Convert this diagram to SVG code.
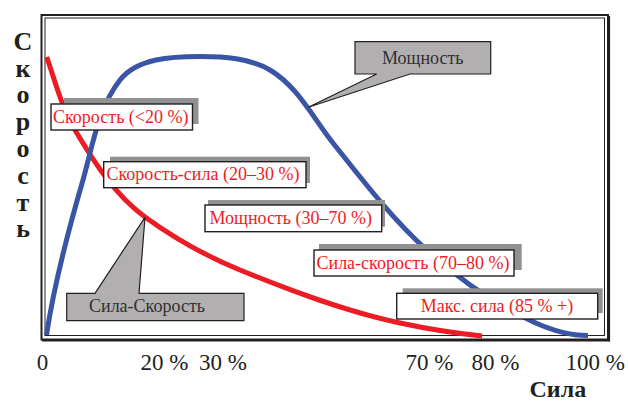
<svg xmlns="http://www.w3.org/2000/svg" width="628" height="401" viewBox="0 0 628 401">
<style>
.frame{fill:none;stroke:#231f20}
.curve{fill:none;stroke-width:5;stroke-linecap:butt}
.red{stroke:#ed1c24}
.blue{stroke:#3a55a5}
.shadow{fill:#919191}
.box{fill:#ffffff;stroke:#231f20;stroke-width:1.4}
.lbl{font-family:"Liberation Serif","Times New Roman",serif;font-size:18px;fill:#ed1c24}
.call{fill:#b1afaf;stroke:#231f20;stroke-width:1.2}
.ctext{font-family:"Liberation Serif","Times New Roman",serif;font-size:18px;fill:#333132}
.axis{font-family:"Liberation Serif","Times New Roman",serif;font-size:23px;fill:#231f20}
.bold{font-family:"Liberation Serif","Times New Roman",serif;font-weight:bold;fill:#231f20}
</style>
<rect width="628" height="401" fill="#ffffff"/>
<g id="frame">
<rect class="frame" x="41.5" y="15" width="566.5" height="324.5" stroke-width="2"/>
<line x1="609.3" y1="16" x2="609.3" y2="341.5" stroke="#231f20" stroke-width="1.6"/>
<line x1="42" y1="340.8" x2="610" y2="340.8" stroke="#231f20" stroke-width="1.6"/>
<rect class="frame" x="45" y="18" width="559.5" height="317.5" stroke-width="1"/>
</g>
<g id="curves">
<path class="curve red" d="M46.7,57 C55.3,81.5 61.7,107.6 75,130 C94,162 114.9,195.1 145,217 C174.4,238.4 206.2,256.2 240,270 C292.3,291.4 345.1,311.2 400,323 C427,328.8 454.7,333.2 482,336"/>
<path class="curve blue" d="M46.5,335 C54.4,282.5 68.7,229 83,180 C92.6,145.9 98,108 120,80 C137.2,58 172.2,56.5 200,56.5 C223.8,56.5 249.5,57.9 270,70 C297.6,86.4 313.1,118 333,143 C362.4,180 391.6,218.2 426.7,250 C458.3,278.6 494.1,303.8 533,321.7 C549.4,329.3 567,335.5 588,335.5"/>
</g>
<g id="callout-power">
<path class="call" d="M355,41.7 H490.7 V74 H410 L308.3,107.3 L376.7,74 H355 Z"/>
<text class="ctext" x="422.8" y="63.5" text-anchor="middle">Мощность</text>
</g>
<g id="callout-force-speed">
<path class="call" d="M66.7,293.3 H95 L145,217.3 L139,293.3 H244 V320.7 H66.7 Z"/>
<text class="ctext" x="89" y="312">Сила-Скорость</text>
</g>
<g id="label-speed">
<rect class="shadow" x="64" y="98" width="134.5" height="26"/>
<rect class="box" x="51" y="104" width="141.5" height="26"/>
<text class="lbl" x="53" y="122.5">Скорость (&lt;20 %)</text>
</g>
<g id="label-speed-force">
<rect class="shadow" x="110" y="156.7" width="200" height="26.3"/>
<rect class="box" x="103.7" y="161.7" width="202.3" height="26"/>
<text class="lbl" x="106.5" y="180.2">Скорость-сила (20–30 %)</text>
</g>
<g id="label-power">
<rect class="shadow" x="208" y="200" width="177" height="26.7"/>
<rect class="box" x="205" y="205" width="176.7" height="26.7"/>
<text class="lbl" x="209.5" y="223.7">Мощность (30–70 %)</text>
</g>
<g id="label-force-speed">
<rect class="shadow" x="319" y="244" width="202.7" height="26"/>
<rect class="box" x="314" y="250" width="200" height="26"/>
<text class="lbl" x="316.5" y="268.5">Сила-скорость (70–80 %)</text>
</g>
<g id="label-max-force">
<rect class="shadow" x="402.7" y="288.3" width="200" height="24.7"/>
<rect class="box" x="396.7" y="293.3" width="201" height="25.7"/>
<text class="lbl" x="497" y="311.5" text-anchor="middle">Макс. сила (85 % +)</text>
</g>
<g id="x-axis-labels">
<text class="axis" x="42.5" y="370" text-anchor="middle">0</text>
<text class="axis" x="140.5" y="370">20 %</text>
<text class="axis" x="199" y="370">30 %</text>
<text class="axis" x="405.5" y="370">70 %</text>
<text class="axis" x="471.5" y="370">80 %</text>
<text class="axis" x="565.5" y="370">100 %</text>
<text class="bold" x="529.5" y="396.5" font-size="24">Сила</text>
</g>
<g id="y-axis-label" class="bold" font-size="26" text-anchor="middle">
<text x="23" y="50">С</text>
<text x="23" y="76.5">к</text>
<text x="23" y="103">о</text>
<text x="23" y="130">р</text>
<text x="23" y="157">о</text>
<text x="23" y="184">с</text>
<text x="23" y="210.5">т</text>
<text x="23" y="237">ь</text>
</g>
</svg>
